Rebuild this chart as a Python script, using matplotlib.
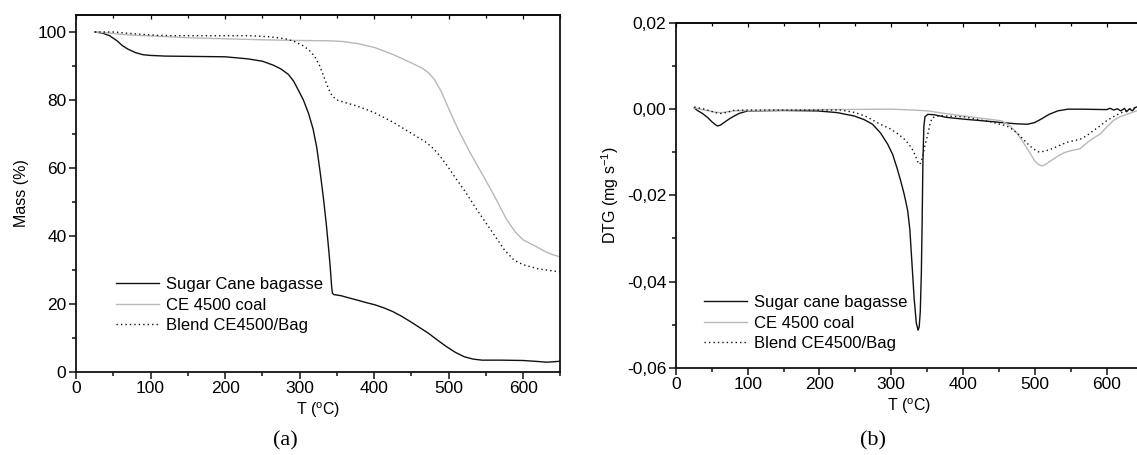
"""
TGA and DTG curves of sugar cane bagasse, CE 4500 coal and their blend
"""

import matplotlib
matplotlib.use("Agg")
import matplotlib.pyplot as plt
from matplotlib.ticker import MultipleLocator, FuncFormatter

plt.rcParams['font.family'] = ['Liberation Sans', 'DejaVu Sans']
plt.rcParams['mathtext.fontset'] = 'custom'
plt.rcParams['mathtext.rm'] = 'Liberation Sans'
plt.rcParams['mathtext.it'] = 'Liberation Sans'

# Colours of the three samples
BLACK = '#111111'
GREY = '#b8b8b8'

# ---- (a) mass loss, T in degC and mass in % ----
bag_t = [25, 35, 45, 55, 62, 70, 80, 90, 100, 120, 200, 230, 250, 265, 275, 285,
         292, 298, 305, 312, 318, 323, 328, 332, 336, 339, 341, 343, 344, 346,
         355, 365, 377, 390, 401, 413, 425, 437, 449, 461, 473, 485, 497, 509,
         521, 533, 545, 570, 600, 620, 631, 640, 650]
bag_m = [100, 99.7, 98.9, 97.4, 96.0, 94.9, 93.9, 93.3, 93.1, 92.9, 92.7, 92.1,
         91.4, 90.2, 89.1, 87.5, 85.5, 83.0, 80.0, 76.0, 71.5, 66.0, 58.0, 51.0,
         43.0, 36.0, 31.0, 25.0, 23.1, 22.7, 22.4, 21.8, 21.1, 20.3, 19.7, 18.8,
         17.7, 16.3, 14.7, 13.0, 11.3, 9.3, 7.4, 5.7, 4.4, 3.7, 3.4, 3.4, 3.3,
         3.0, 2.8, 2.9, 3.1]

coal_t = [25, 40, 60, 80, 104, 150, 200, 250, 300, 340, 358, 380, 401, 425, 449,
          465, 473, 481, 490, 498, 507, 514, 521, 530, 545, 560, 578, 590, 600,
          617, 630, 640, 650]
coal_m = [100, 99.8, 99.3, 99.0, 98.8, 98.3, 98.0, 97.7, 97.5, 97.4, 97.2, 96.5,
          95.4, 93.4, 91.0, 89.3, 88.0, 86.0, 82.5, 78.5, 74.0, 70.8, 67.8, 64.0,
          58.2, 52.3, 44.7, 41.0, 38.8, 36.9, 35.3, 34.4, 33.8]

blend_t = [25, 40, 51, 70, 89, 110, 137, 200, 233, 260, 281, 293, 305, 313, 320,
           327, 334, 338, 341, 344, 350, 360, 377, 400, 425, 449, 470, 480, 490,
           500, 510, 521, 540, 559.5, 575, 588, 600, 620, 635, 650]
blend_m = [100, 100, 100, 99.6, 99.3, 99.0, 98.9, 98.9, 98.9, 98.6, 98.0, 97.2,
           95.9, 94.6, 92.9, 90.0, 86.0, 83.7, 82.2, 81.1, 80.0, 79.3, 78.2, 76.3,
           73.5, 70.3, 67.5, 65.6, 63.0, 60.0, 56.8, 53.4, 47.0, 40.8, 35.8, 32.8,
           31.5, 30.3, 29.8, 29.4]

# ---- (b) DTG, T in degC and rate in mg/s ----
dbag_t = [25.6, 30, 37, 44, 50, 55, 58, 62, 68, 74, 80, 88, 100, 150, 197, 225,
          248.7, 262, 274, 285, 295, 302, 308, 313, 318, 320, 323, 326, 329, 332,
          335, 337.5, 339, 340.5, 342, 343.2, 344.2, 345.5, 347, 351, 360, 377,
          400, 428, 454, 475, 490, 500, 510, 520, 532, 546, 566, 600, 605, 610,
          615, 620, 625, 628, 632, 636, 640, 644, 647]
dbag_v = [0.0003, -0.0003, -0.0010, -0.0019, -0.0029, -0.0036, -0.0039, -0.0037,
          -0.0030, -0.0023, -0.0017, -0.0010, -0.0004, -0.0003, -0.0004, -0.0008,
          -0.0016, -0.0024, -0.0035, -0.0055, -0.0081, -0.0105, -0.0136, -0.0165,
          -0.0197, -0.0212, -0.0236, -0.0280, -0.0360, -0.0440, -0.0497, -0.0513,
          -0.0505, -0.0470, -0.0380, -0.0250, -0.0120, -0.0040, -0.0018, -0.0012,
          -0.0013, -0.0019, -0.0023, -0.0027, -0.0031, -0.0034, -0.0035, -0.0031,
          -0.0022, -0.0012, -0.0004, 0.0, 0.0, -0.0001, 0.0002, -0.0002, 0.0001,
          -0.0004, 0.0002, -0.0006, 0.0001, -0.0004, 0.0004, 0.0006, 0.0002]

dcoal_t = [25.6, 40, 55, 64, 72, 80, 100, 200, 301, 330, 351, 375, 402, 430, 454,
           465, 474.5, 482, 490, 500, 505, 510, 517, 525.7, 533, 541, 549, 556.5,
           563, 572, 581, 591, 600, 609, 618, 628, 642, 647]
dcoal_v = [0.0003, -0.0002, -0.0007, -0.0008, -0.0006, -0.0004, -0.0003, -0.0001,
           0.0, -0.0002, -0.0004, -0.0010, -0.0016, -0.0022, -0.0027, -0.0038,
           -0.0054, -0.0072, -0.0093, -0.0120, -0.0128, -0.0132, -0.0126, -0.0116,
           -0.0108, -0.0101, -0.0097, -0.0094, -0.0092, -0.0079, -0.0068, -0.0058,
           -0.0042, -0.0027, -0.0018, -0.0012, -0.0004, -0.0002]

dblend_t = [25.6, 40, 55, 63, 72, 79.6, 100, 230, 250, 265, 284.7, 298, 310, 320,
            328, 333, 336, 338.6, 341, 343.6, 347, 351, 354, 357, 367, 402, 440,
            461, 470, 479.5, 487, 493, 499, 505, 512, 521, 532, 544.5, 555, 563,
            572, 581.6, 590, 600, 608, 616, 625, 632.7, 642, 647]
dblend_v = [0.0005, 0.0, -0.0008, -0.0010, -0.0007, -0.0003, -0.0002, -0.0002,
            -0.0008, -0.0017, -0.0035, -0.0045, -0.0058, -0.0072, -0.0089, -0.0105,
            -0.0118, -0.0128, -0.0125, -0.0112, -0.0085, -0.0058, -0.0035, -0.0020,
            -0.0015, -0.0018, -0.0030, -0.0039, -0.0048, -0.0062, -0.0075, -0.0085,
            -0.0093, -0.0099, -0.0098, -0.0094, -0.0086, -0.0077, -0.0073, -0.0070,
            -0.0062, -0.0050, -0.0040, -0.0027, -0.0019, -0.0012, -0.0005, 0.0,
            0.0004, 0.0004]

LABELS_A = ['Sugar Cane bagasse', 'CE 4500 coal', 'Blend CE4500/Bag']
LABELS_B = ['Sugar cane bagasse', 'CE 4500 coal', 'Blend CE4500/Bag']

W, H = 1137, 455


def style_axes(ax):
    """
    Origin style frame: outward ticks on bottom/left, inward on top
    """
    for side in ax.spines.values():
        side.set_linewidth(1.3)
        side.set_color(BLACK)
    ax.tick_params(which='both', direction='out', top=False, right=False,
                   labelsize=12.5, width=1.1, color=BLACK, pad=2)
    ax.tick_params(which='major', length=5)
    ax.tick_params(which='minor', length=3)
    # inner ticks on top
    sec_x = ax.secondary_xaxis('top')
    sec_x.tick_params(which='both', direction='in', labeltop=False, width=0.9)
    sec_x.tick_params(which='major', length=3)
    sec_x.tick_params(which='minor', length=2)
    sec_x.xaxis.set_major_locator(MultipleLocator(100))
    sec_x.xaxis.set_minor_locator(MultipleLocator(50))
    sec_x.set_xticklabels([])
    sec_x.spines['top'].set_linewidth(1.3)
    ax.set_xlabel(r'T ($^{\rm o}$C)', fontsize=11.5, labelpad=3)


def axes_box(x0, x1, ytop, ybot):
    """
    Convert a pixel box of the picture to figure fractions
    """
    return [x0 / W, (H - ybot) / H, (x1 - x0) / W, (ybot - ytop) / H]


fig = plt.figure(figsize=(W / 100, H / 100), dpi=100)

# ---------------- (a) ----------------
ax1 = fig.add_axes(axes_box(76.1, 560.4, 15, 371.7))
ax1.plot(bag_t, bag_m, color=BLACK, lw=1.0, label=LABELS_A[0])
ax1.plot(coal_t, coal_m, color=GREY, lw=1.0, label=LABELS_A[1])
ax1.plot(blend_t, blend_m, color=BLACK, lw=1.0, ls=(0, (1, 2.2)), label=LABELS_A[2])
ax1.set_xlim(0, 650)
ax1.set_ylim(0, 105)
ax1.xaxis.set_major_locator(MultipleLocator(100))
ax1.xaxis.set_minor_locator(MultipleLocator(50))
ax1.yaxis.set_major_locator(MultipleLocator(20))
ax1.yaxis.set_minor_locator(MultipleLocator(10))
style_axes(ax1)
ax1.set_ylabel('Mass (%)', fontsize=11.5, labelpad=6)
ax1.legend(loc='upper left', bbox_to_anchor=((116 - 76.1) / 484.3, (371.7 - 277) / 356.7),
           frameon=False, fontsize=12, handlelength=2.6, handletextpad=0.4,
           labelspacing=0.33, borderpad=0, borderaxespad=0)

# ---------------- (b) ----------------
ax2 = fig.add_axes(axes_box(675.9, 1142.4, 23, 367.7))
ax2.plot(dbag_t, dbag_v, color=BLACK, lw=1.0, label=LABELS_B[0])
ax2.plot(dcoal_t, dcoal_v, color=GREY, lw=1.0, label=LABELS_B[1])
ax2.plot(dblend_t, dblend_v, color=BLACK, lw=1.0, ls=(0, (1, 2.2)), label=LABELS_B[2])
ax2.set_xlim(0, 650)
ax2.set_ylim(-0.06, 0.02)
ax2.xaxis.set_major_locator(MultipleLocator(100))
ax2.xaxis.set_minor_locator(MultipleLocator(50))
ax2.yaxis.set_major_locator(MultipleLocator(0.02))
ax2.yaxis.set_minor_locator(MultipleLocator(0.01))
ax2.yaxis.set_major_formatter(FuncFormatter(
    lambda v, pos: ('%.2f' % v).replace('-0.00', '0.00').replace('.', ',')))
style_axes(ax2)
ax2.set_ylabel(r'DTG (mg s$^{-1}$)', fontsize=11.5, labelpad=4)
ax2.legend(loc='upper left', bbox_to_anchor=((703.5 - 675.9) / 466.5, (367.7 - 295) / 344.7),
           frameon=False, fontsize=12, handlelength=2.6, handletextpad=0.4,
           labelspacing=0.33, borderpad=0, borderaxespad=0)

# panel letters
fig.text(285 / W, 1 - 441 / H, '(a)', family='Liberation Serif', fontsize=16,
         ha='center', va='center')
fig.text(873 / W, 1 - 441 / H, '(b)', family='Liberation Serif', fontsize=16,
         ha='center', va='center')

fig.savefig('out.png', dpi=100)
